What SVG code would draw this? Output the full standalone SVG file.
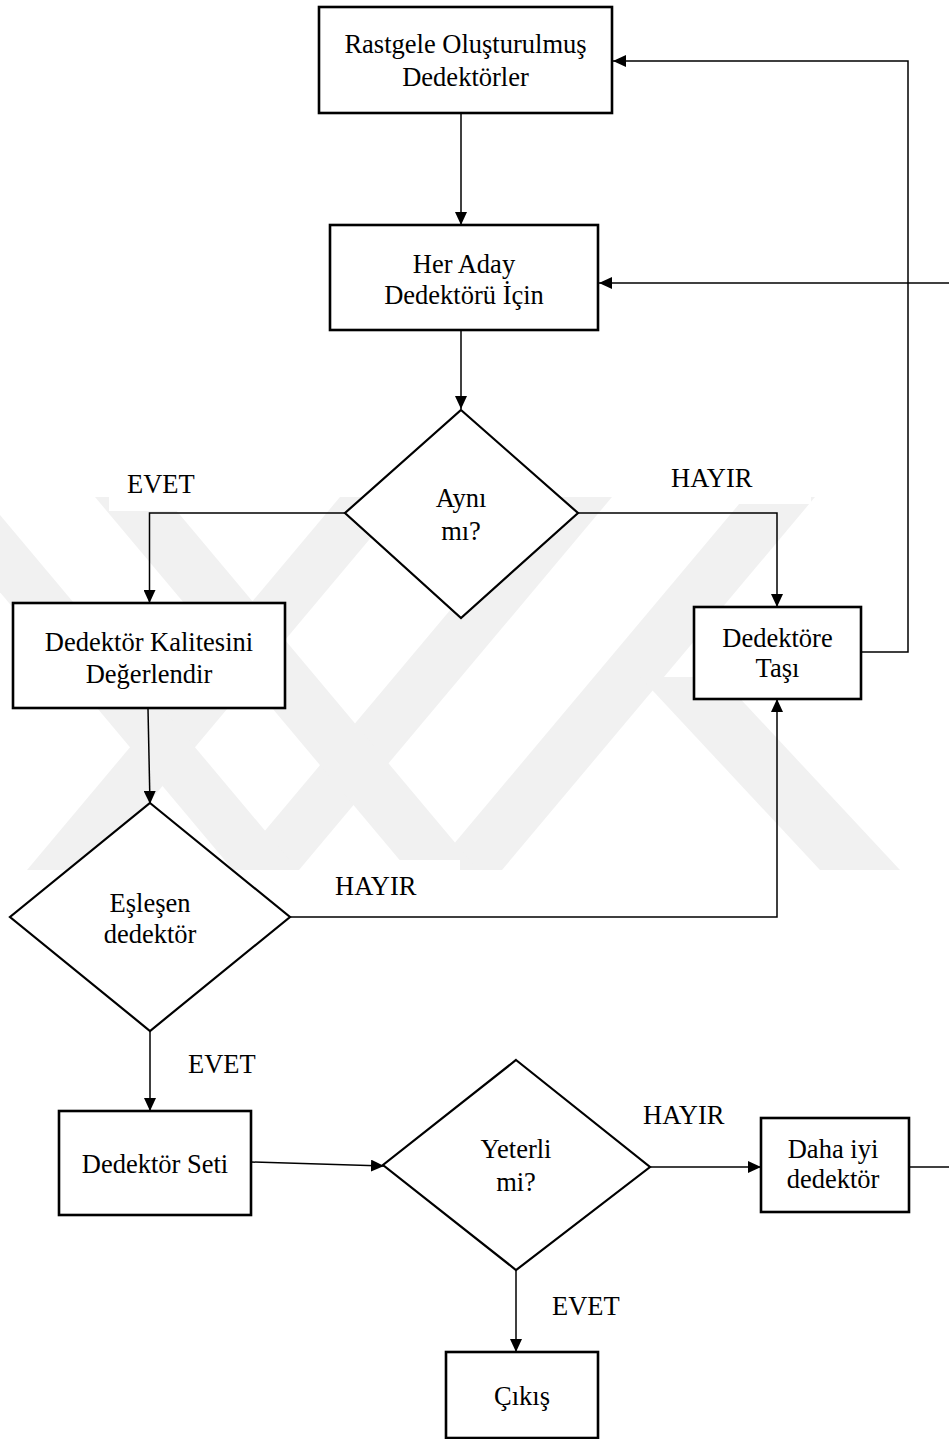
<svg xmlns="http://www.w3.org/2000/svg" width="949" height="1439" viewBox="0 0 949 1439">
<defs>
<style>
.box{fill:#fff;stroke:#000;stroke-width:2.6}
.dia{fill:#fff;stroke:#000;stroke-width:2.2}
.con{fill:none;stroke:#000;stroke-width:1.5}
.wm{fill:#f1f1f1}
.t{font-family:"Liberation Serif","Times New Roman",serif;font-size:26.5px;fill:#000;text-anchor:middle}
.l{font-family:"Liberation Serif","Times New Roman",serif;font-size:26.5px;fill:#000}
</style>
<clipPath id="wmclip"><rect x="0" y="497" width="949" height="373"/></clipPath>
<marker id="ah" markerWidth="13" markerHeight="12" refX="13" refY="6" orient="auto" markerUnits="userSpaceOnUse"><path d="M0,0 L13,6 L0,12 z" fill="#000"/></marker>
</defs>
<rect width="949" height="1439" fill="#fff"/>
<g id="watermark" clip-path="url(#wmclip)">
<polygon class="wm" points="340,497 405,497 92,870 27,870"/>
<polygon class="wm" points="545,497 612,497 299,870 232,870"/>
<polygon class="wm" points="745,497 815,497 502,870 432,870"/>
<polygon class="wm" points="95,497 165,497 478,870 408,870"/>
<polygon class="wm" points="-80,497 -15,497 298,870 233,870"/>
<polygon class="wm" points="640,677 720,677 900,870 820,870"/>
<rect x="109" y="497" width="100" height="14" fill="#fff"/>
<rect x="651" y="490" width="160" height="14" fill="#fff"/>
<rect x="313" y="860" width="147" height="12" fill="#fff"/>
</g>
<g id="connectors">
<path class="con" d="M461,114 L461,225" marker-end="url(#ah)"/>
<path class="con" d="M461,331 L461,409" marker-end="url(#ah)"/>
<path class="con" d="M345,513 H149.5 V603" marker-end="url(#ah)"/>
<path class="con" d="M578,513 H777 V607" marker-end="url(#ah)"/>
<path class="con" d="M861,652 H908 V61 H613" marker-end="url(#ah)"/>
<path class="con" d="M148,709 L150,804" marker-end="url(#ah)"/>
<path class="con" d="M290,917 H777 V699" marker-end="url(#ah)"/>
<path class="con" d="M150,1030 V1111" marker-end="url(#ah)"/>
<path class="con" d="M251,1162 L384,1166" marker-end="url(#ah)"/>
<path class="con" d="M650,1167 H761" marker-end="url(#ah)"/>
<path class="con" d="M909,1167 H949"/>
<path class="con" d="M949,283 H599" marker-end="url(#ah)"/>
<path class="con" d="M516,1270 V1352" marker-end="url(#ah)"/>
<text class="l" x="127" y="493">EVET</text>
<text class="l" x="671" y="487">HAYIR</text>
<text class="l" x="335" y="895">HAYIR</text>
<text class="l" x="188" y="1073">EVET</text>
<text class="l" x="643" y="1124">HAYIR</text>
<text class="l" x="552" y="1315">EVET</text>
</g>
<g id="n1"><rect class="box" x="319" y="7" width="293" height="106"/><text class="t" x="465.5" y="53">Rastgele Oluşturulmuş</text><text class="t" x="465.5" y="86">Dedektörler</text></g>
<g id="n2"><rect class="box" x="330" y="225" width="268" height="105"/><text class="t" x="464" y="273">Her Aday</text><text class="t" x="464" y="304">Dedektörü İçin</text></g>
<g id="n3"><polygon class="dia" points="461,410 578,513 461,618 345,513"/><text class="t" x="461" y="507">Aynı</text><text class="t" x="461" y="540">mı?</text></g>
<g id="n4"><rect class="box" x="13" y="603" width="272" height="105"/><text class="t" x="149" y="651">Dedektör Kalitesini</text><text class="t" x="149" y="683">Değerlendir</text></g>
<g id="n5"><rect class="box" x="694" y="607" width="167" height="92"/><text class="t" x="777.5" y="647">Dedektöre</text><text class="t" x="777.5" y="677">Taşı</text></g>
<g id="n6"><polygon class="dia" points="150,803 290,917 150,1031 10,917"/><text class="t" x="150" y="912">Eşleşen</text><text class="t" x="150" y="943">dedektör</text></g>
<g id="n7"><rect class="box" x="59" y="1111" width="192" height="104"/><text class="t" x="155" y="1173">Dedektör Seti</text></g>
<g id="n8"><polygon class="dia" points="516,1060 650,1167 516,1270 383,1165"/><text class="t" x="516" y="1158">Yeterli</text><text class="t" x="516" y="1191">mi?</text></g>
<g id="n9"><rect class="box" x="761" y="1118" width="148" height="94"/><text class="t" x="833" y="1158">Daha iyi</text><text class="t" x="833" y="1188">dedektör</text></g>
<g id="n10"><rect class="box" x="446" y="1352" width="152" height="86"/><text class="t" x="522" y="1405">Çıkış</text></g>
</svg>
